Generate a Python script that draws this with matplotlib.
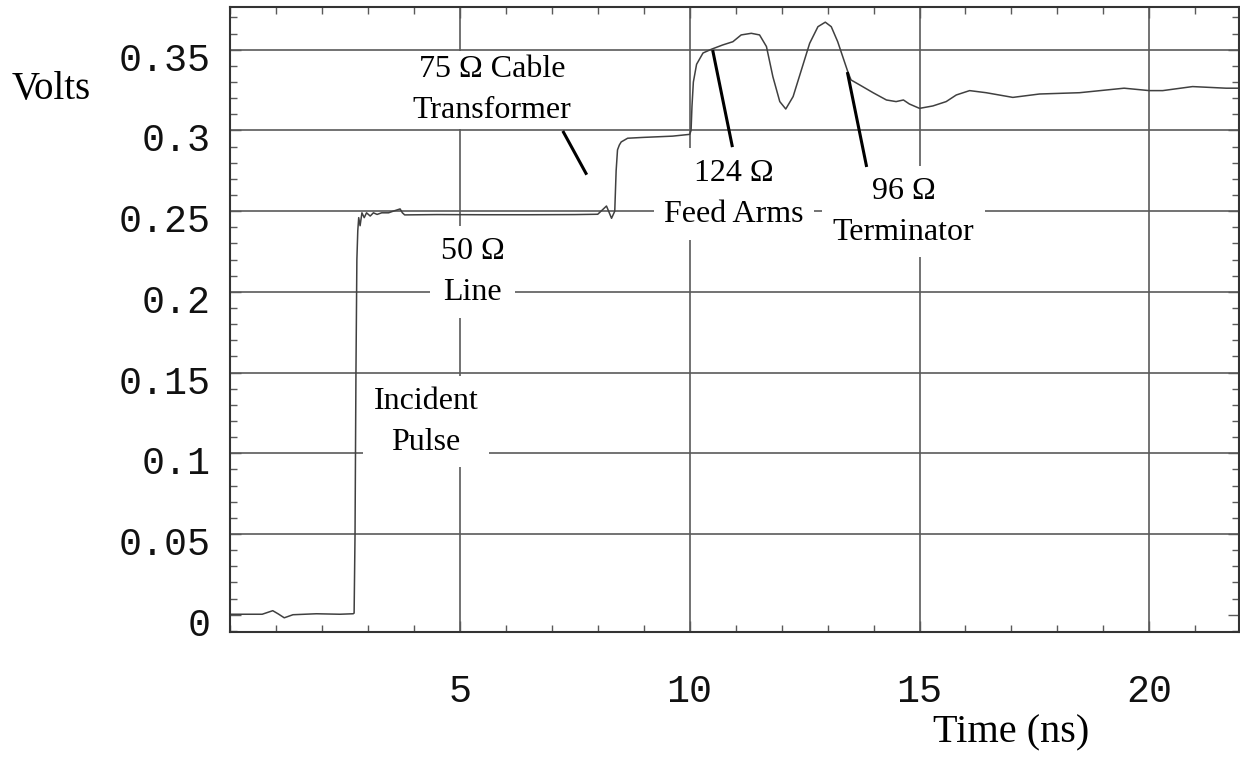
import matplotlib
matplotlib.use("Agg")
import matplotlib.pyplot as plt
import matplotlib.transforms as mtransforms
from matplotlib.ticker import MultipleLocator, FixedLocator

# ---- data ----
t_ns = [0.0, 0.30, 0.70, 0.93, 1.05, 1.18, 1.37, 1.88, 2.39, 2.68,
        2.70, 2.72, 2.74, 2.76, 2.78, 2.80, 2.83, 2.87, 2.92, 2.97,
        3.05, 3.12, 3.20, 3.30, 3.45, 3.55, 3.70, 3.75, 3.80, 4.5,
        5.5, 6.5, 7.5, 8.0, 8.19, 8.30, 8.37, 8.40, 8.43, 8.47,
        8.51, 8.65, 8.98, 9.63, 10.0, 10.03, 10.05, 10.08, 10.15, 10.29,
        10.47, 10.72, 10.94, 11.12, 11.34, 11.52, 11.67, 11.81, 11.96, 12.09,
        12.25, 12.43, 12.61, 12.79, 12.95, 13.08, 13.22, 13.44, 13.51, 13.70,
        13.99, 14.28, 14.49, 14.65, 14.78, 15.0, 15.29, 15.58, 15.80, 16.09,
        16.45, 17.03, 17.61, 18.48, 19.45, 20.0, 20.29, 20.94, 21.67, 21.95]
volts = [0.0003, 0.0003, 0.0003, 0.0025, 0.0005, -0.0019, 0.0, 0.0006, 0.0003, 0.0006,
         0.001, 0.05, 0.15, 0.22, 0.238, 0.246, 0.241, 0.249, 0.246, 0.249,
         0.247, 0.249, 0.248, 0.249, 0.249, 0.250, 0.2514, 0.249, 0.2477, 0.2479,
         0.2478, 0.2478, 0.2479, 0.2481, 0.2532, 0.2456, 0.250, 0.275, 0.288, 0.291,
         0.2929, 0.2952, 0.2957, 0.2965, 0.2976, 0.300, 0.315, 0.330, 0.341, 0.348,
         0.3503, 0.353, 0.3550, 0.3592, 0.3602, 0.3592, 0.352, 0.3333, 0.3179, 0.3133,
         0.321, 0.3375, 0.354, 0.3643, 0.3671, 0.3643, 0.355, 0.3364, 0.3313, 0.3282,
         0.3234, 0.3189, 0.3179, 0.3189, 0.3164, 0.3137, 0.3152, 0.3179, 0.322, 0.3247,
         0.3234, 0.3205, 0.3226, 0.3234, 0.3262, 0.3247, 0.3247, 0.3272, 0.3262, 0.3262]

x_major = [5, 10, 15, 20]
y_major = [0, 0.05, 0.1, 0.15, 0.2, 0.25, 0.3, 0.35]
y_labels = ["0", "0.05", "0.1", "0.15", "0.2", "0.25", "0.3", "0.35"]

labels = ["75 \u03a9 Cable\nTransformer", "50 \u03a9\nLine", "Incident\nPulse",
          "124 \u03a9\nFeed Arms", "96 \u03a9\nTerminator"]
label_x = [5.70, 5.28, 4.26, 10.96, 14.65]
label_y = [0.3252, 0.2123, 0.1195, 0.2607, 0.2496]

pointers = [((7.24, 0.2997), (7.76, 0.2726)),
            ((10.50, 0.3498), (10.93, 0.2897)),
            ((13.43, 0.3362), (13.85, 0.2774))]

# ---- figure ----
fig = plt.figure(figsize=(12.4, 7.57), dpi=100)
ax = fig.add_axes([230/1240, (757-632)/757, (1239-230)/1240, (632-7)/757])

ax.set_xlim(0, 21.95)
ax.set_ylim(-0.0107, 0.3765)

grid_c = "#5a5a5a"
for gx in x_major:
    ax.axvline(gx, color=grid_c, lw=1.2, zorder=1)
for gy in y_major[1:]:
    ax.axhline(gy, color=grid_c, lw=1.2, zorder=1)

ax.plot(t_ns, volts, color="#404040", lw=1.1, zorder=2)

for txt, lx, ly in zip(labels, label_x, label_y):
    pad = 0.12 if txt.startswith("75") else 0.33
    ax.text(lx, ly, txt, ha="center", va="center", multialignment="center",
            family="Liberation Serif", fontsize=23, linespacing=1.55, zorder=4,
            bbox=dict(boxstyle="square,pad=%s" % pad, fc="white", ec="none"))

for (x0, y0), (x1, y1) in pointers:
    ax.plot([x0, x1], [y0, y1], color="black", lw=2.2, zorder=5, solid_capstyle="butt")

ax.xaxis.set_major_locator(FixedLocator(x_major))
ax.xaxis.set_minor_locator(MultipleLocator(1))
ax.yaxis.set_major_locator(FixedLocator(y_major))
ax.yaxis.set_minor_locator(MultipleLocator(0.01))
ax.set_yticklabels(y_labels)
ax.set_xticklabels([str(v) for v in x_major])

ax.tick_params(which="both", direction="in", top=True, right=True, color=grid_c, width=1.0)
ax.tick_params(which="major", length=8)
ax.tick_params(which="minor", length=5)
ax.tick_params(axis="x", which="major", pad=30)
ax.tick_params(axis="y", which="major", pad=14)
for lab in ax.get_xticklabels() + ax.get_yticklabels():
    lab.set_family("Liberation Mono")
    lab.set_fontsize(27.5)
    lab.set_color("#111111")

shift = mtransforms.ScaledTranslation(0, -7/100, fig.dpi_scale_trans)
for lab in ax.get_yticklabels():
    lab.set_transform(lab.get_transform() + shift)

for sp in ax.spines.values():
    sp.set_color("#333333")
    sp.set_linewidth(1.5)

fig.text(51/1240, 1 - 90/757, "Volts", ha="center", va="center",
         family="Liberation Serif", fontsize=28)
fig.text(1011/1240, 1 - 733/757, "Time (ns)", ha="center", va="center",
         family="Liberation Serif", fontsize=29)

fig.savefig("out.png", dpi=100, facecolor="white")
